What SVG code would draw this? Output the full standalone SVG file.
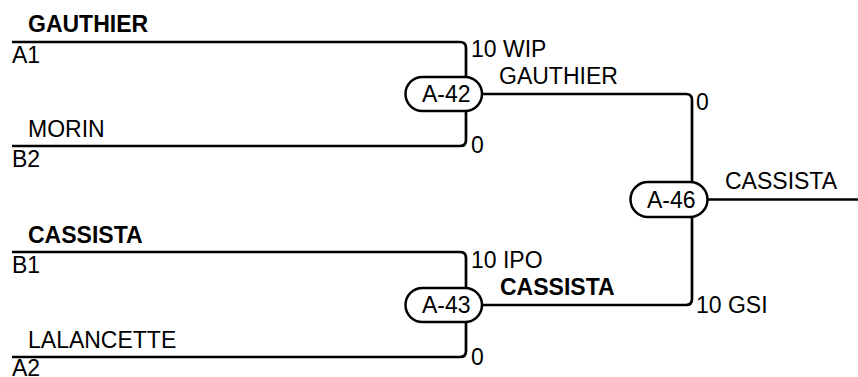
<svg xmlns="http://www.w3.org/2000/svg" width="858" height="377" viewBox="0 0 858 377">
<style>
.ln{fill:none;stroke:#000;stroke-width:2.7;stroke-linejoin:round}
.pill{fill:#fff;stroke:#000;stroke-width:2.5}
text{font-family:"Liberation Sans",Arial,sans-serif;font-size:23px;fill:#000}
.b{font-weight:bold}
</style>
<rect width="858" height="377" fill="#fff"/>
<g id="connectors">
<path class="ln" d="M12,42 H460 Q466,42 466,48 V77"/>
<path class="ln" d="M12,146 H460 Q466,146 466,140 V111"/>
<path class="ln" d="M12,252 H460 Q466,252 466,258 V288"/>
<path class="ln" d="M12,357 H460 Q466,357 466,351 V322"/>
<path class="ln" d="M482,94 H686 Q692,94 692,100 V182"/>
<path class="ln" d="M482,305 H686 Q692,305 692,299 V217"/>
<path class="ln" d="M708,199.5 H858"/>
</g>
<g id="labels">
<text class="b" x="28" y="32">GAUTHIER</text>
<text x="12" y="63">A1</text>
<text x="28" y="137">MORIN</text>
<text x="12" y="167">B2</text>
<text class="b" x="28" y="243">CASSISTA</text>
<text x="12" y="273">B1</text>
<text x="28" y="348">LALANCETTE</text>
<text x="12" y="376">A2</text>
<text x="471" y="57">10 WIP</text>
<text x="471" y="153">0</text>
<text x="499" y="84">GAUTHIER</text>
<text x="471" y="268">10 IPO</text>
<text x="471" y="365">0</text>
<text class="b" x="500" y="295">CASSISTA</text>
<text x="696" y="110">0</text>
<text x="696" y="313">10 GSI</text>
<text x="725" y="189">CASSISTA</text>
</g>
<g id="A-42">
<rect class="pill" x="405.5" y="77" width="76.5" height="34" rx="17"/>
<text x="422" y="102">A-42</text>
</g>
<g id="A-43">
<rect class="pill" x="405.5" y="288" width="76.5" height="34" rx="17"/>
<text x="422" y="313">A-43</text>
</g>
<g id="A-46">
<rect class="pill" x="630.5" y="182" width="77" height="35" rx="17.5"/>
<text x="647" y="208">A-46</text>
</g>
</svg>
